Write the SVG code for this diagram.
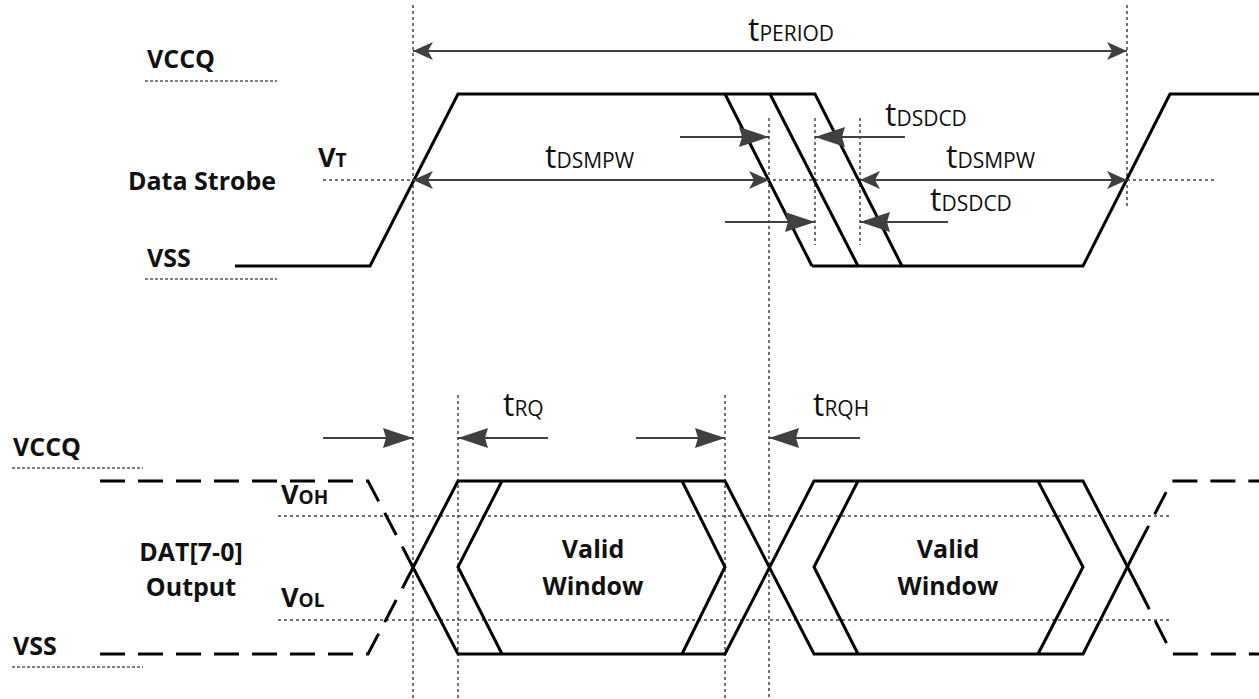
<svg xmlns="http://www.w3.org/2000/svg" width="1259" height="699" viewBox="0 0 1259 699">
<style>
.bg{fill:#ffffff}
.lbl{font-family:"Open Sans","Noto Sans","Liberation Sans",sans-serif;font-weight:bold;font-size:25px;fill:#111}
.vl{font-size:27px}
.sub{font-size:19px}
.tl{font-family:"Open Sans","Noto Sans","Liberation Sans",sans-serif;font-size:21px;fill:#111}
.tt{font-size:32px}
.sig{fill:none;stroke:#000;stroke-width:3;stroke-linejoin:miter}
.sigd{fill:none;stroke:#000;stroke-width:3;stroke-dasharray:25 13}
.dot{fill:none;stroke:#444;stroke-width:1.5;stroke-dasharray:3 3}
.ul{fill:none;stroke:#555;stroke-width:1.5;stroke-dasharray:3 2}
.arr{fill:none;stroke:#404040;stroke-width:2}
.big{marker-end:url(#big)}
.dbl{marker-start:url(#small);marker-end:url(#small)}
</style>
<defs>
<marker id="big" markerUnits="userSpaceOnUse" markerWidth="30" markerHeight="20" viewBox="0 0 30 20" refX="30" refY="10" orient="auto">
<path d="M0,0 L30,10 L0,20 L3,10 z" fill="#404040"/>
</marker>
<marker id="small" markerUnits="userSpaceOnUse" markerWidth="20" markerHeight="18" viewBox="0 0 20 18" refX="20" refY="9" orient="auto-start-reverse">
<path d="M0,0 L20,9 L0,18 L5,9 z" fill="#404040"/>
</marker>
</defs>
<rect class="bg" x="0" y="0" width="1259" height="699"/>

<g id="guides">
<path class="dot" d="M413,5 V699"/>
<path class="dot" d="M769,118 V699"/>
<path class="dot" d="M815,118 V245"/>
<path class="dot" d="M860,118 V245"/>
<path class="dot" d="M1127,5 V207"/>
<path class="dot" d="M458,395 V699"/>
<path class="dot" d="M725,395 V699"/>
<path class="dot" d="M323,180 H1217"/>
<path class="dot" d="M278,516 H1172"/>
<path class="dot" d="M278,620 H1172"/>
<path class="ul" d="M145,81 H277"/>
<path class="ul" d="M145,279 H277"/>
<path class="ul" d="M12,468 H143"/>
<path class="ul" d="M12,667 H143"/>
</g>

<g id="labels">
<text class="lbl" x="147" y="68">VCCQ</text>
<text class="lbl" x="128" y="190">Data Strobe</text>
<text class="lbl" x="147" y="267">VSS</text>
<text class="lbl vl" x="318" y="167">V<tspan class="sub">T</tspan></text>
<text class="lbl" x="13" y="456">VCCQ</text>
<text class="lbl" x="13" y="655">VSS</text>
<text class="lbl vl" x="281" y="504">V<tspan class="sub">OH</tspan></text>
<text class="lbl vl" x="281" y="607">V<tspan class="sub">OL</tspan></text>
<text class="lbl" x="191" y="561" text-anchor="middle">DAT[7-0]</text>
<text class="lbl" x="191" y="596" text-anchor="middle">Output</text>
</g>

<g id="data-strobe">
<path class="sig" d="M235,266 H370 L458,94 H815 L902,266"/>
<path class="sig" d="M812,266 H1083 L1170,94 H1259"/>
<path class="sig" d="M725,94 L812,266"/>
<path class="sig" d="M770,94 L858,266"/>
</g>

<g id="dat-output">
<path class="sigd" d="M100,481 H368 L403,548"/>
<path class="sigd" d="M100,654 H368 L403,587"/>
<path class="sig" d="M403,548 L458,654 H725 L814,481 H1083 L1138,587"/>
<path class="sig" d="M403,587 L458,481 H725 L814,654 H1083 L1137,548"/>
<path class="sigd" d="M1138,587 L1172,654 H1259"/>
<path class="sigd" d="M1137,548 L1172,481 H1259"/>
<path class="sig" d="M502,481 L458,567 L502,654"/>
<path class="sig" d="M682,481 L725,567 L682,654"/>
<path class="sig" d="M858,481 L814,567 L858,654"/>
<path class="sig" d="M1038,481 L1083,567 L1038,654"/>
</g>

<g id="window-1">
<text class="lbl" x="593" y="558" text-anchor="middle">Valid</text>
<text class="lbl" x="593" y="595" text-anchor="middle">Window</text>
</g>
<g id="window-2">
<text class="lbl" x="948" y="558" text-anchor="middle">Valid</text>
<text class="lbl" x="948" y="595" text-anchor="middle">Window</text>
</g>

<g id="connectors">
<path class="arr dbl" d="M413,51 H1127"/>
<path class="arr dbl" d="M413,180 H769"/>
<path class="arr dbl" d="M860,180 H1127"/>
<path class="arr big" d="M680,137 H769"/>
<path class="arr big" d="M905,137 H815"/>
<path class="arr big" d="M725,222 H815"/>
<path class="arr big" d="M948,222 H860"/>
<path class="arr big" d="M323,438 H413"/>
<path class="arr big" d="M548,438 H458"/>
<path class="arr big" d="M636,438 H725"/>
<path class="arr big" d="M860,438 H769"/>
</g>

<g id="timing-labels">
<text class="tl" x="748" y="41"><tspan class="tt">t</tspan>PERIOD</text>
<text class="tl" x="545" y="168"><tspan class="tt">t</tspan>DSMPW</text>
<text class="tl" x="946" y="168"><tspan class="tt">t</tspan>DSMPW</text>
<text class="tl" x="885" y="126"><tspan class="tt">t</tspan>DSDCD</text>
<text class="tl" x="930" y="211"><tspan class="tt">t</tspan>DSDCD</text>
<text class="tl" x="503" y="416"><tspan class="tt">t</tspan>RQ</text>
<text class="tl" x="813" y="416"><tspan class="tt">t</tspan>RQH</text>
</g>
</svg>
